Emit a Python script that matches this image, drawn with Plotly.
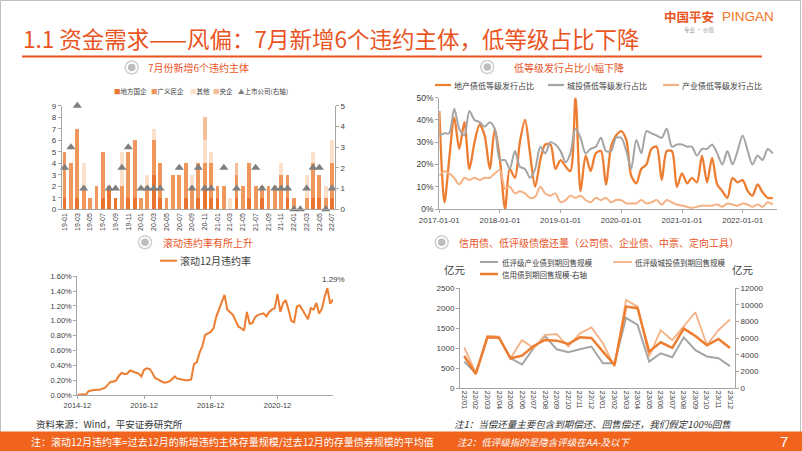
import pandas as pd
import plotly.graph_objects as go

W, H = 802, 451
def fx(x): return x / W
def fy(y): return 1 - y / H

# ---------------- Chart A : new default issuers per month ----------------
months_a = ['19-01','19-02','19-03','19-04','19-05','19-06','19-07','19-08','19-09','19-10',
            '19-11','19-12','20-01','20-02','20-03','20-04','20-05','20-06','20-07','20-08',
            '20-09','20-10','20-11','20-12','21-01','21-02','21-03','21-04','21-05','21-06',
            '21-07','21-08','21-09','21-10','21-11','21-12','22-01','22-02','22-03','22-04',
            '22-05','22-06','22-07']
local_soe = [1,0,1,0,0,0,1,2,1,0, 1,1,0,0,3,1,0,0,0,1, 0,1,2,1,1,0,0,1,0,1, 0,1,0,0,0,1,0,0,0,1, 1,0,1]
private   = [4,4,6,2,1,2,4,0,0,2, 4,5,1,2,3,3,1,3,3,3, 2,3,2,3,1,2,0,2,2,3, 2,1,2,2,3,2,1,0,1,3, 2,1,3]
other     = [0,0,0,2,0,0,0,0,0,3, 0,0,0,1,1,0,0,0,0,0, 1,0,2,1,0,0,1,0,0,0, 0,0,0,0,1,0,0,0,2,1, 0,1,2]
central   = [0,0,0,0,0,0,0,0,0,0, 0,0,0,0,0,0,0,0,0,0, 0,0,2,0,0,0,0,1,0,0, 0,0,0,0,0,0,0,0,0,0, 0,0,0]
listed    = [2,3,5,1,None,None,None,1,1,2, 3,None,1,1,1,1,None,None,2,None,
             1,2,1,1,None,2,None,1,None,None, 2,1,None,1,1,1,0,0,1,2, 2,0,1]

# ---------------- Chart B : share of low-grade issuance (%) ----------------
dates_b = pd.date_range('2017-01-01', periods=67, freq='MS')
realestate_low = [44,3,22,41,27,39,18,30,38,33,18,36,
                  22,0,18,14,30,40,25,10,22,29,29,18,
                  22,19,17,50,8,24,17,25,26,11,28,33,
                  35,31,15,11.5,18,20,27,28,13,26,26,10,
                  16,11.5,14,12,24,12,23,11,8,5,14,12,
                  13,8,6,11,7.5,5,5]
lgfv_low = [33,34,34,45,36,33,44,40,39,37,39,36,
            22,22,18,26,19,18,14,18,28,25,30,29,
            26,21,25,36,32,25,27,28,32,26,26,32,
            32,26,18,31,25,35,34,33,32,36,28,29,
            29,28,28,24,27,27,29,25,20,26,20,26,
            33,26,20,24,22,27,25]
industrial_low = [15,17,16,14,11,14,13,14,13,14,14,16,
                  17.5,9,10,7,8,7,5,5.5,10,7,6,7,
                  3,4,6,5,6,4,3,5,4,5,3,4,
                  4,2.5,2.5,2.5,4,2.5,3,4,2,4,3,2,
                  1.5,1,0.5,1,1.5,1.5,1.5,2,1,2.5,2,1.5,
                  2.5,2,1,2,1,3,2]

# ---------------- Chart C : rolling 12M default rate (%) ----------------
dates_c = pd.date_range('2014-12-01', periods=93, freq='MS')
rolling_default = [0.00,0.01,0.01,0.00,0.05,0.06,0.07,0.07,0.07,0.08,
                   0.10,0.14,0.18,0.18,0.20,0.26,0.30,0.28,0.29,0.33,
                   0.32,0.31,0.29,0.25,0.34,0.36,0.35,0.30,0.23,0.21,
                   0.19,0.17,0.17,0.18,0.21,0.25,0.22,0.21,0.21,0.20,
                   0.20,0.21,0.42,0.44,0.57,0.66,0.81,0.83,0.85,0.90,
                   1.06,1.15,1.25,1.35,1.15,1.12,1.08,1.00,0.92,0.90,
                   0.87,1.12,0.96,0.97,1.05,1.08,1.09,1.10,1.06,1.12,
                   1.15,1.17,1.36,1.12,1.24,1.28,1.15,1.00,0.98,1.19,
                   1.21,1.15,1.08,1.02,1.17,1.15,1.24,1.10,1.16,1.32,
                   1.44,1.23,1.29]

# ---------------- Chart D : maturities / puts (亿元) ----------------
months_d = ['22/01','22/02','22/03','22/04','22/05','22/06','22/07','22/08','22/09','22/10','22/11','22/12',
            '23/01','23/02','23/03','23/04','23/05','23/06','23/07','23/08','23/09','23/10','23/11','23/12']
ind_low_due  = [660,370,1270,1270,745,590,1000,1300,970,900,970,1040,
                620,620,1760,1580,660,870,770,1270,950,790,745,550]
lgfv_low_due = [1020,370,1310,1290,745,1200,1000,1330,1350,1040,1370,1520,
                1120,535,2210,2040,790,1450,1200,1540,1900,1080,1450,1720]
credit_due   = [3850,1690,6100,6060,3570,3900,5060,5780,5700,5300,6100,6020,
                4380,2770,9800,9600,4380,5500,4820,7150,6260,5140,5900,4820]

# colours
C_ORANGE = '#ED7D31'
C_GRAY = '#A5A5A5'
C_LIGHT = '#F4B183'
C_TITLE = '#E9541F'
C_LOCAL = '#E8742F'
C_PRIV = '#F0985C'
C_OTHER = '#FBE0CB'
C_CENT = '#F6BE98'
C_TRI = '#7F7F7F'
TXT = '#404040'
AX = '#A6A6A6'
FONT = 'Arial, Liberation Sans, Noto Sans CJK SC'
CJK = 'Noto Sans CJK SC'

fig = go.Figure()

# Chart A traces
for name, vals, col in [('地方国企', local_soe, C_LOCAL), ('广义民企', private, C_PRIV),
                        ('其他', other, C_OTHER), ('央企', central, C_CENT)]:
    fig.add_trace(go.Bar(x=months_a, y=vals, name=name, marker_color=col,
                         marker_line_width=0, xaxis='x', yaxis='y'))
fig.add_trace(go.Scatter(x=months_a, y=listed, name='上市公司(右轴)', mode='markers',
                         marker=dict(symbol='triangle-up', size=8, color=C_TRI),
                         xaxis='x', yaxis='y2', cliponaxis=False))

# Chart B traces
fig.add_trace(go.Scatter(x=dates_b, y=realestate_low, name='地产债低等级发行占比', mode='lines',
                         line=dict(color=C_ORANGE, width=2.3, shape='spline', smoothing=0.8),
                         xaxis='x2', yaxis='y3'))
fig.add_trace(go.Scatter(x=dates_b, y=lgfv_low, name='城投债低等级发行占比', mode='lines',
                         line=dict(color=C_GRAY, width=2, shape='spline', smoothing=0.8),
                         xaxis='x2', yaxis='y3'))
fig.add_trace(go.Scatter(x=dates_b, y=industrial_low, name='产业债低等级发行占比', mode='lines',
                         line=dict(color=C_LIGHT, width=2, shape='spline', smoothing=0.8),
                         xaxis='x2', yaxis='y3'))

# Chart C trace
fig.add_trace(go.Scatter(x=dates_c, y=rolling_default, name='滚动12月违约率', mode='lines',
                         line=dict(color=C_ORANGE, width=2), xaxis='x3', yaxis='y4'))

# Chart D traces
fig.add_trace(go.Scatter(x=months_d, y=ind_low_due, name='低评级产业债到期回售规模', mode='lines',
                         line=dict(color=C_GRAY, width=2), xaxis='x4', yaxis='y5'))
fig.add_trace(go.Scatter(x=months_d, y=lgfv_low_due, name='低评级城投债到期回售规模', mode='lines',
                         line=dict(color=C_LIGHT, width=1.8), xaxis='x4', yaxis='y5'))
fig.add_trace(go.Scatter(x=months_d, y=credit_due, name='信用债到期回售规模-右轴', mode='lines',
                         line=dict(color=C_ORANGE, width=2.5), xaxis='x4', yaxis='y6'))

axcommon = dict(showline=True, linecolor=AX, linewidth=1, showgrid=False, zeroline=False,
                ticks='outside', tickcolor=AX, ticklen=3, automargin=False,
                tickfont=dict(family=FONT, size=8, color=TXT))

def ax(**kw):
    d = dict(axcommon)
    d.update(kw)
    return d

fig.update_layout(
    width=W, height=H, margin=dict(l=0, r=0, t=0, b=0, autoexpand=False),
    paper_bgcolor='white', plot_bgcolor='rgba(0,0,0,0)',
    showlegend=False,
    barmode='stack', bargap=0.4,
    xaxis=ax(domain=[fx(61.7), fx(335)], anchor='y', type='category', range=[-0.45, 42.45],
             tickmode='array', tickvals=months_a[::2], tickangle=-90, ticks='',
             tickfont=dict(family=FONT, size=7, color=TXT)),
    yaxis=ax(domain=[fy(209.3), fy(105.7)], anchor='x', range=[0, 9], dtick=1),
    yaxis2=ax(overlaying='y', side='right', anchor='x', range=[0, 5], dtick=1),
    xaxis2=ax(domain=[fx(439.3), fx(776.7)], anchor='y3', type='date',
              range=['2017-01-01', '2022-07-25'],
              tickmode='array', tickvals=['2017-01-01','2018-01-01','2019-01-01','2020-01-01','2021-01-01','2022-01-01'],
              tickformat='%Y-%m-%d', tickfont=dict(family=FONT, size=8, color=TXT)),
    yaxis3=ax(domain=[fy(209), fy(97.7)], anchor='x2', range=[0, 50], dtick=10, ticksuffix='%',
              tickfont=dict(family=FONT, size=8.5, color=TXT)),
    xaxis3=ax(domain=[fx(77.3), fx(333)], anchor='y4', type='date',
              range=['2014-12-01', '2022-08-01'],
              tickmode='array', tickvals=['2014-12-01','2016-12-01','2018-12-01','2020-12-01'],
              tickformat='%Y-%m', tickfont=dict(family=FONT, size=7.5, color=TXT)),
    yaxis4=ax(domain=[fy(395), fy(276.3)], anchor='x3', range=[0, 1.6], dtick=0.2,
              tickformat='.2f', ticksuffix='%', tickfont=dict(family=FONT, size=7.5, color=TXT)),
    xaxis4=ax(domain=[fx(460), fx(735)], anchor='y5', type='category', range=[-0.37, 23.43],
              tickangle=90, ticks='', tickfont=dict(family=FONT, size=7.5, color=TXT)),
    yaxis5=ax(domain=[fy(388), fy(288.3)], anchor='x4', range=[0, 2500], dtick=500, tickformat='d',
              tickfont=dict(family=FONT, size=8, color=TXT)),
    yaxis6=ax(overlaying='y5', side='right', anchor='x4', range=[0, 12000], dtick=2000, tickformat='d',
              tickfont=dict(family=FONT, size=8, color=TXT)),
)

shapes = []
annos = []

def text(t, x, y, size, color=TXT, family=CJK, xanchor='left'):
    annos.append(dict(text=t, x=fx(x), y=fy(y), xref='paper', yref='paper', xanchor=xanchor,
                      yanchor='middle', showarrow=False, font=dict(family=family, size=size, color=color)))

def hline(x0, x1, y, color, width):
    shapes.append(dict(type='line', xref='paper', yref='paper', x0=fx(x0), x1=fx(x1), y0=fy(y), y1=fy(y),
                       line=dict(color=color, width=width)))

# slide frame
shapes.append(dict(type='rect', xref='paper', yref='paper', x0=fx(0.5), x1=fx(800.5), y0=fy(450), y1=fy(0.5),
                   line=dict(color='#BFBFBF', width=1), fillcolor='rgba(0,0,0,0)', layer='below'))
# title rule
hline(22, 762, 56.5, C_TITLE, 2.2)
# footer bar
shapes.append(dict(type='rect', xref='paper', yref='paper', x0=0, x1=1, y0=0, y1=fy(431.5),
                   line=dict(width=0), fillcolor='#F0641E'))

# title
text('1.1 资金需求——风偏：7月新增6个违约主体，低等级占比下降', 21, 38, 22.5, C_TITLE)
# logo
text('<b>中国平安</b>', 662, 16, 12.5, '#E9541F')
text('PINGAN', 720, 16, 13.5, '#EE7422', family='Liberation Sans, Arial')
text('专业 · 价值', 682, 30, 5.5, '#999999')

# subtitle circles + text
def bullet(cx, cy, t, tx):
    r1, r2 = 6.5, 3.8
    shapes.append(dict(type='circle', xref='paper', yref='paper',
                       x0=fx(cx - r1), x1=fx(cx + r1), y0=fy(cy + r1), y1=fy(cy - r1),
                       line=dict(color='#D0D0D0', width=1.5), fillcolor='white'))
    shapes.append(dict(type='circle', xref='paper', yref='paper',
                       x0=fx(cx - r2), x1=fx(cx + r2), y0=fy(cy + r2), y1=fy(cy - r2),
                       line=dict(width=0), fillcolor='#BDBDBD'))
    text(t, tx, cy, 10, C_TITLE)

bullet(131.7, 67.5, '7月份新增6个违约主体', 146)
bullet(487.3, 67, '低等级发行占比小幅下降', 512)
bullet(145, 242.3, '滚动违约率有所上升', 161)
bullet(441.7, 242.3, '信用债、低评级债偿还量（公司债、企业债、中票、定向工具）', 457)

# chart A legend
legA = [('■', C_LOCAL, '地方国企', 112), ('■', C_PRIV, '广义民企', 149), ('■', C_OTHER, '其他', 188),
        ('■', C_CENT, '央企', 211), ('▲', C_TRI, '上市公司(右轴）', 236)]
for sym, col, lab, x0 in legA:
    text(f'<span style="color:{col}">{sym}</span>{lab}', x0, 90.7, 6.5)

# chart B legend
for col, lab, x0 in [(C_ORANGE, '地产债低等级发行占比', 435), (C_GRAY, '城投债低等级发行占比', 548),
                     (C_LIGHT, '产业债低等级发行占比', 663)]:
    hline(x0, x0 + 16, 85, col, 2.2)
    text(lab, x0 + 17, 85, 8)

# chart C legend
hline(160, 177, 260.7, C_ORANGE, 2)
text('滚动12月违约率', 178, 260.7, 10)
text('1.29%', 333, 279, 8, family=FONT, xanchor='center')

# chart D legend + units
hline(480, 498, 262, C_GRAY, 2)
text('低评级产业债到期回售规模', 500, 262, 7.5)
hline(613, 632, 262, C_LIGHT, 1.8)
text('低评级城投债到期回售规模', 633, 262, 7.5)
hline(480, 498, 274, C_ORANGE, 2.5)
text('信用债到期回售规模-右轴', 500, 274, 7.5)
text('亿元', 455, 269.5, 10.5, xanchor='center')
text('亿元', 743, 269.5, 10.5, xanchor='center')

# footer texts
text('资料来源：Wind，平安证券研究所', 34, 424, 9.5, '#333333')
text('<i>注1：当偿还量主要包含到期偿还、回售偿还，我们假定100%回售</i>', 452, 424, 9.5, '#333333')
text('注：滚动12月违约率=过去12月的新增违约主体存量规模/过去12月的存量债券规模的平均值', 29, 441.5, 10, 'white')
text('<i>注2：低评级指的是隐含评级在AA-及以下</i>', 455, 441.5, 9.5, 'white')
text('7', 784, 441.5, 15, 'white', family=FONT, xanchor='center')

fig.update_layout(shapes=shapes, annotations=annos)
fig.write_html('out.html', config={'displayModeBar': False},
               post_script="document.body.style.margin='0px';document.body.style.padding='0px';"
                           "document.body.style.overflow='hidden';")
